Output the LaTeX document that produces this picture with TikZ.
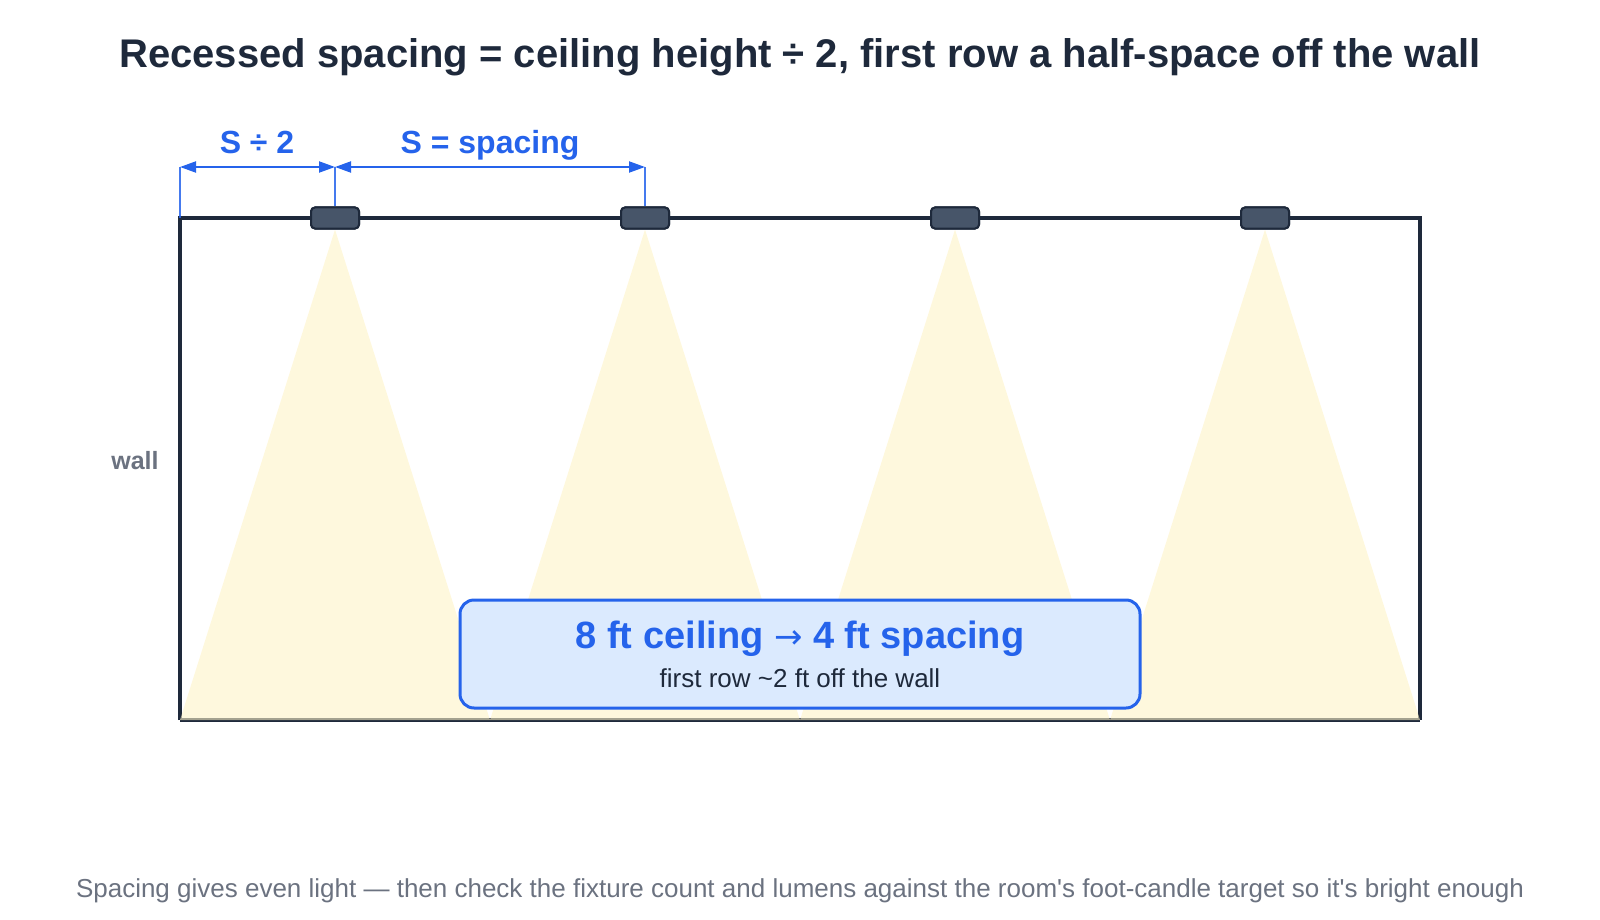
\documentclass[tikz,border=0pt]{standalone}
\usepackage{fontspec}
\setmainfont{Liberation Sans}
\newfontfamily\plainfont{Liberation Sans}
\newfontfamily\arrowfont{DejaVu Sans}
\usetikzlibrary{arrows.meta}
\definecolor{ink}{HTML}{1E293B}
\definecolor{fixfill}{HTML}{475569}
\definecolor{accent}{HTML}{2563EB}
\definecolor{boxfill}{HTML}{DBEAFE}
\definecolor{cone}{HTML}{FEF3C7}
\definecolor{muted}{HTML}{6B7280}
\tikzset{
  wallline/.style={draw=ink, line width=3.5pt},
  fixture/.style={draw=ink, fill=fixfill, line width=2pt, rounded corners=4pt, minimum width=48pt, minimum height=21pt, inner sep=0pt},
  beam/.style={fill=cone, fill opacity=0.6, draw=none},
  extline/.style={draw=accent, line width=1.5pt, draw opacity=0.85},
  dimline/.style={draw=accent, line width=2pt, {Triangle[length=16pt,width=11pt]}-{Triangle[length=16pt,width=11pt]}},
  dimlabel/.style={text=accent, font=\fontsize{32}{36}\selectfont\bfseries, inner sep=0pt, anchor=base},
  callout/.style={draw=accent, fill=boxfill, line width=3pt, rounded corners=14pt, minimum width=680pt, minimum height=108pt},
}
\begin{document}
\begin{tikzpicture}[x=1pt,y=-1pt]
\useasboundingbox (0,0) rectangle (1600,920);
% title
\node[text=ink, font=\fontsize{40}{46}\selectfont\bfseries, inner sep=0pt, anchor=base] (title) at (800,68) {Recessed spacing = ceiling height ÷ 2, first row a half-space off the wall};
% room corners
\coordinate (tl) at (180,218);
\coordinate (tr) at (1420,218);
\coordinate (bl) at (180,720);
\coordinate (br) at (1420,720);
% floor points
\coordinate (p0) at (180,720);
\coordinate (p1) at (490,720);
\coordinate (p2) at (800,720);
\coordinate (p3) at (1110,720);
\coordinate (p4) at (1420,720);
% room outline
\draw[wallline] (bl) -- (tl) -- (tr) -- (br);
\draw[wallline] (bl) -- (br);
% fixtures
\node[fixture] (f1) at (335,218) {};
\node[fixture] (f2) at (645,218) {};
\node[fixture] (f3) at (955,218) {};
\node[fixture] (f4) at (1265,218) {};
% light cones
\fill[beam] (f1.south) -- (p0) -- (p1) -- cycle;
\fill[beam] (f2.south) -- (p1) -- (p2) -- cycle;
\fill[beam] (f3.south) -- (p2) -- (p3) -- cycle;
\fill[beam] (f4.south) -- (p3) -- (p4) -- cycle;
\node[fixture] at (f1) {};
\node[fixture] at (f2) {};
\node[fixture] at (f3) {};
\node[fixture] at (f4) {};
% dimension
\coordinate (d0) at (180,167);
\coordinate (d1) at (335,167);
\coordinate (d2) at (645,167);
\draw[extline] (d0) -- (tl);
\draw[extline] (d1) -- (f1.north);
\draw[extline] (d2) -- (f2.north);
\draw[dimline] (d0) -- (d1);
\draw[dimline] (d1) -- (d2);
\node[dimlabel] (lhalf) at (257,154) {S ÷ 2};
\node[dimlabel] (lfull) at (490,154) {S = spacing};
% wall label
\node[text=muted, font=\fontsize{25}{30}\selectfont\bfseries, inner sep=0pt, anchor=base] (wall) at (135,469) {wall};
% callout
\node[callout] (box) at (800,654) {};
\node[text=accent, font=\fontsize{38}{44}\selectfont\bfseries, inner sep=0pt, anchor=base] (l1) at (800,648) {8 ft ceiling {\arrowfont\mdseries\fontsize{34}{38}\selectfont →} 4 ft spacing};
\node[text=ink, font=\fontsize{26}{30}\selectfont, inner sep=0pt, anchor=base] (l2) at (800,687) {first row \textasciitilde2 ft off the wall};
% footer
\node[text=muted, font=\plainfont\fontsize{26}{30}\selectfont, inner sep=0pt, anchor=base] (foot) at (800,897) {Spacing gives even light — then check the fixture count and lumens against the room's foot-candle target so it's bright enough};
\end{tikzpicture}
\end{document}
